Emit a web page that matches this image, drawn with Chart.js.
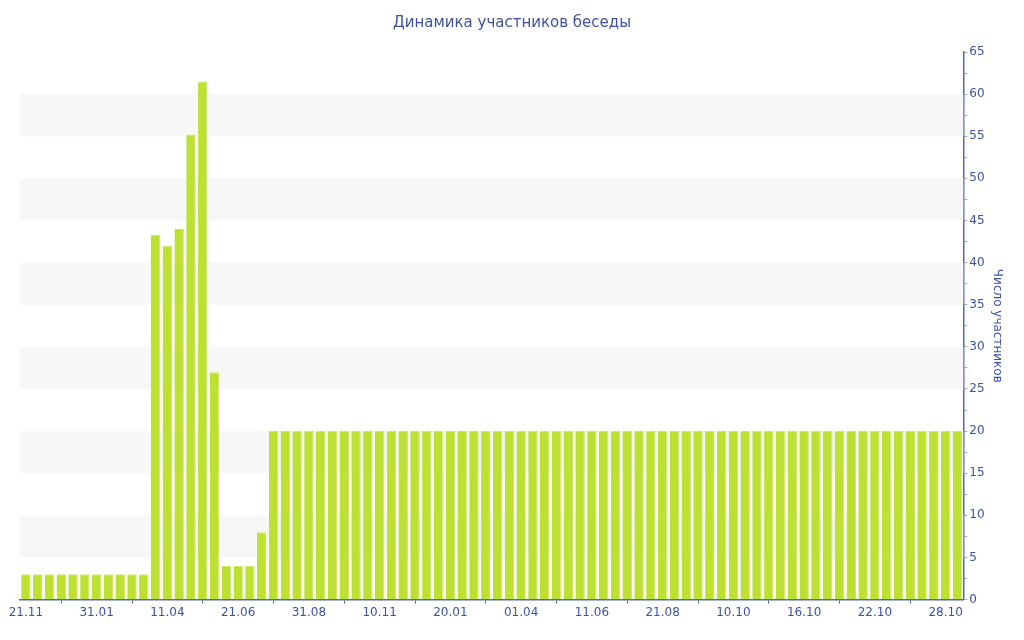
<!DOCTYPE html>
<html>
<head>
<meta charset="utf-8">
<script src="https://cdn.jsdelivr.net/npm/chart.js@4"></script>
<style>
  body { margin: 0; background: #fff; }
  #wrap { width: 1024px; height: 640px; }
</style>
</head>
<body>
<div id="wrap"><canvas id="myChart"></canvas></div>
<script>
// tick labels shown under every 6th bar
const tickLabels = ['21.11', '31.01', '11.04', '21.06', '31.08', '10.11', '20.01',
    '01.04', '11.06', '21.08', '10.10', '16.10', '22.10', '28.10'];

const members = [
    3, 3, 3, 3, 3, 3, 3, 3, 3, 3, 3,
    43.3, 42, 44, 55.2, 61.5, 27, 4, 4, 4, 8,
    20, 20, 20, 20, 20, 20, 20, 20, 20, 20,
    20, 20, 20, 20, 20, 20, 20, 20, 20, 20,
    20, 20, 20, 20, 20, 20, 20, 20, 20, 20,
    20, 20, 20, 20, 20, 20, 20, 20, 20, 20,
    20, 20, 20, 20, 20, 20, 20, 20, 20, 20,
    20, 20, 20, 20, 20, 20, 20, 20, 20
];

const categories = members.map((v, i) => i % 6 === 0 ? tickLabels[i / 6] : '');

const textColor = '#3d52a0';
const axisColor = '#5468aa';
const font = { family: 'DejaVu Sans', size: 12 };

// alternating grey bands behind the bars
const bands = {
    id: 'bands',
    beforeDatasetsDraw(chart) {
        const { ctx, chartArea, scales: { y } } = chart;
        ctx.save();
        ctx.fillStyle = '#f7f7f7';
        for (let v = 5; v < 65; v += 10) {
            const top = y.getPixelForValue(v + 5);
            const bottom = y.getPixelForValue(v);
            ctx.fillRect(chartArea.left, top, chartArea.right - chartArea.left, bottom - top);
        }
        ctx.restore();
    }
};

const ctx = document.getElementById('myChart').getContext('2d');
const myChart = new Chart(ctx, {
    type: 'bar',
    data: {
        labels: categories,
        datasets: [{
            label: 'Число участников',
            data: members,
            backgroundColor: 'rgb(189, 224, 50)',
            borderColor: 'rgb(204, 231, 105)',
            borderWidth: { top: 1, right: 1, left: 0, bottom: 0 },
            borderSkipped: 'bottom',
            barPercentage: 0.8,
            categoryPercentage: 1
        }]
    },
    options: {
        responsive: true,
        maintainAspectRatio: false,
        animation: false,
        layout: { padding: { left: 20, right: 20, top: 8, bottom: 18 } },
        plugins: {
            legend: { display: false },
            tooltip: { enabled: false },
            title: {
                display: true,
                text: 'Динамика участников беседы',
                color: textColor,
                font: { family: 'DejaVu Sans', size: 15, weight: 'normal' },
                padding: { top: 6, bottom: 20 }
            }
        },
        scales: {
            x: {
                grid: {
                    drawOnChartArea: false,
                    tickLength: 4,
                    tickColor: axisColor
                },
                border: { color: axisColor, width: 1.5 },
                ticks: {
                    autoSkip: false,
                    maxRotation: 0,
                    color: textColor,
                    font: font,
                    padding: 2,
                    callback: (v, i) => i % 6 === 0 ? tickLabels[i / 6] : null
                }
            },
            y: {
                position: 'right',
                min: 0,
                max: 65,
                grid: {
                    drawOnChartArea: false,
                    tickLength: 4,
                    tickColor: '#aaaaaa'
                },
                border: { color: axisColor, width: 1.5 },
                ticks: {
                    stepSize: 2.5,
                    color: textColor,
                    font: font,
                    padding: 2,
                    callback: v => v % 5 === 0 ? v : ''
                },
                title: {
                    display: true,
                    text: 'Число участников',
                    color: textColor,
                    font: font,
                    padding: { top: 0, bottom: 3 }
                }
            }
        }
    },
    plugins: [bands]
});
</script>
</body>
</html>
